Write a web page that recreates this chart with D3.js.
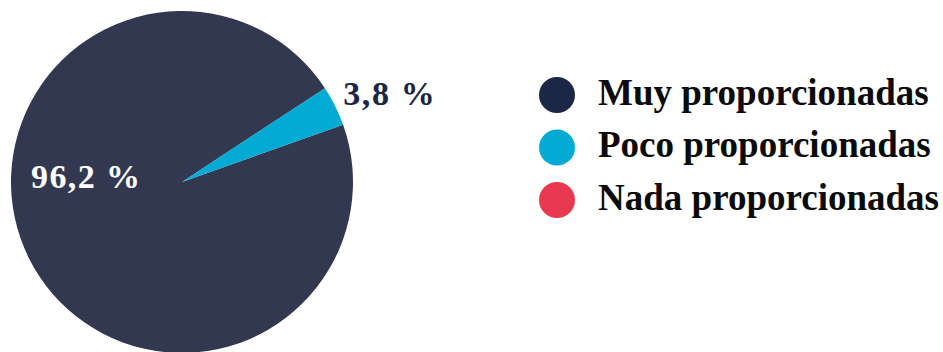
<!DOCTYPE html>
<html>
<head>
<meta charset="utf-8">
<script src="https://cdn.jsdelivr.net/npm/d3@7"></script>
<style>
  html, body { margin: 0; padding: 0; background: #fff; }
  svg { display: block; }
</style>
</head>
<body>
<svg id="chart" width="943" height="352"></svg>
<script>
// Share of answers per category (percent)
const categories = ["Muy proporcionadas", "Poco proporcionadas", "Nada proporcionadas"];
const values = [96.2, 3.8, 0];
const valueLabels = ["96,2 %", "3,8 %", ""];
const sliceColors = ["#31374f", "#00aad3", "#e63950"];
const legendColors = ["#1b2646", "#00aad3", "#e63950"];

const svg = d3.select("#chart");
const cx = 182, cy = 182, radius = 171;

const startDeg = 70.4;
const pie = d3.pie()
  .sort(null)
  .value(d => d.value)
  .startAngle(startDeg * Math.PI / 180)
  .endAngle(startDeg * Math.PI / 180 + 2 * Math.PI);

const data = categories.map((c, i) => ({ name: c, value: values[i], label: valueLabels[i], i }));
const arcs = pie(data);
const arc = d3.arc().innerRadius(0).outerRadius(radius);

const defs = svg.append("defs");
defs.append("filter").attr("id", "soft")
  .append("feGaussianBlur").attr("stdDeviation", 0.6);

const g = svg.append("g").attr("transform", `translate(${cx},${cy})`);

g.selectAll("path.slice")
  .data(arcs.filter(d => d.data.value > 0))
  .join("path")
  .attr("class", "slice")
  .attr("d", arc)
  .attr("fill", d => sliceColors[d.data.i])
  .attr("filter", "url(#soft)");

// Value labels: large share inside on the left, small share just outside its slice
const font = "'Liberation Serif', 'Times New Roman', serif";
const big = arcs[0];
g.append("text")
  .attr("x", -radius + 20)
  .attr("y", 6)
  .attr("font-family", font)
  .attr("font-weight", "bold")
  .attr("font-size", 34)
  .attr("letter-spacing", 1.4)
  .attr("fill", "#ffffff")
  .text(big.data.label);

const small = arcs[1];
const midA = (small.startAngle + small.endAngle) / 2;
const outR = radius + 8;
g.append("text")
  .attr("x", Math.sin(midA) * outR + 1)
  .attr("y", -Math.cos(midA) * outR + 3)
  .attr("font-family", font)
  .attr("font-weight", "bold")
  .attr("font-size", 34)
  .attr("letter-spacing", 1.6)
  .attr("fill", "#1b2646")
  .text(small.data.label);

// Legend
const legendY = d3.scalePoint().domain(categories).range([95, 200]);
const legend = svg.append("g");
const items = legend.selectAll("g.item")
  .data(categories)
  .join("g")
  .attr("class", "item")
  .attr("transform", d => `translate(557,${legendY(d)})`);

items.append("circle")
  .attr("r", 18)
  .attr("fill", (d, i) => legendColors[i])
  .attr("filter", "url(#soft)");

items.append("text")
  .attr("x", 41)
  .attr("y", 9.5)
  .attr("font-family", font)
  .attr("font-weight", "bold")
  .attr("font-size", 37)
  .attr("fill", "#0a0a0a")
  .text(d => d);
</script>
</body>
</html>
